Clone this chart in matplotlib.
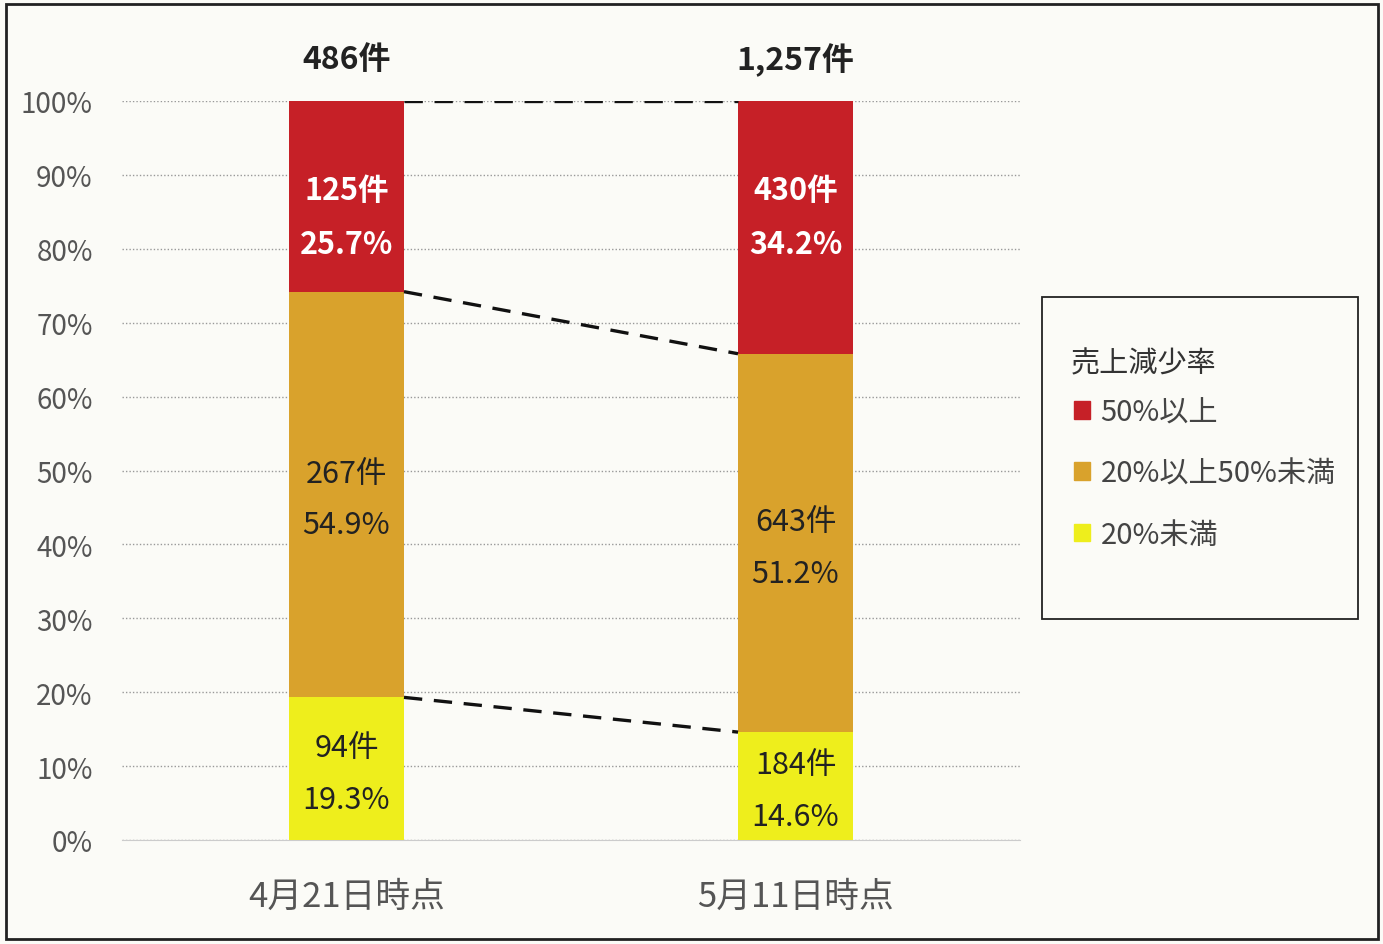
import matplotlib.pyplot as plt
import numpy as np
from matplotlib.patches import Rectangle, Patch

plt.rcParams['font.family'] = ['Noto Sans CJK JP', 'DejaVu Sans']

dates = ['4月21日時点', '5月11日時点']
totals = ['486件', '1,257件']
categories = ['20%未満', '20%以上50%未満', '50%以上']
counts = [[94, 184], [267, 643], [125, 430]]
pcts = [[19.3, 14.6], [54.9, 51.2], [25.7, 34.2]]
colors = ['#EEEE1C', '#D9A22C', '#C62027']
text_colors = ['#222222', '#222222', 'white']
text_bold = ['normal', 'normal', 'bold']

bg = '#FBFBF7'
fig = plt.figure(figsize=(13.83, 9.45), dpi=100, facecolor=bg)
ax = fig.add_axes([122 / 1383, 1 - 841 / 945, 898 / 1383, 739 / 945])
ax.set_facecolor(bg)

x = np.arange(len(dates))
w = 0.256
bottom = np.zeros(len(dates))
tops = []
for i, cat in enumerate(categories):
    vals = np.array(pcts[i])
    # last segment fills up to 100%
    if i == len(categories) - 1:
        vals = 100 - bottom
    ax.bar(x, vals, w, bottom=bottom, color=colors[i], zorder=3)
    for j in range(len(dates)):
        yc = bottom[j] + vals[j] / 2 - 0.6
        if i == len(categories) - 1:
            yc = 84.3  # top labels sit at the same height in the original
        ax.text(x[j], yc, f'{counts[i][j]}件\n{pcts[i][j]}%', ha='center', va='center',
                color=text_colors[i], fontsize=22, fontweight=text_bold[i],
                linespacing=1.87, zorder=4)
    bottom = bottom + vals
    tops.append(bottom.copy())

# dashed connectors between segment tops
for t in tops:
    ax.plot([x[0] + w / 2, x[1] - w / 2], [t[0], t[1]], color='#111111',
            lw=2.4, dashes=(5.5, 3.5), zorder=4)

for j in range(len(dates)):
    ax.text(x[j], 105.7, totals[j], ha='center', va='center', fontsize=23,
            fontweight='bold', color='#222222')

ax.set_xlim(-0.5, 1.5)
ax.set_ylim(0, 100)
ax.set_yticks(np.arange(0, 101, 10))
ax.set_yticklabels([f'{v}%' for v in range(0, 101, 10)], fontsize=20, color='#555555')
ax.set_xticks(x)
ax.set_xticklabels(dates, fontsize=25, color='#555555')
ax.tick_params(axis='y', length=0, pad=21)
ax.tick_params(axis='x', length=0, pad=28)
ax.grid(axis='y', color='#999999', linestyle=(0, (1, 1.5)), lw=1, zorder=0)
for s in ['top', 'right', 'left']:
    ax.spines[s].set_visible(False)
ax.spines['bottom'].set_color('#cccccc')

# legend box
fig.patches.append(Rectangle((1042 / 1383, 1 - 620 / 945), 316 / 1383, 322 / 945,
                             transform=fig.transFigure, fill=False, edgecolor='#222222', lw=1.3))
fig.text(1071 / 1383, 1 - 364 / 945, '売上減少率', ha='left', va='center',
         fontsize=21, color='#333333')
handles = [Patch(color=colors[i]) for i in [2, 1, 0]]
labels = [categories[i] for i in [2, 1, 0]]
leg = fig.legend(handles, labels, loc='upper left',
                 bbox_to_anchor=(1048 / 1383, 1 - 372 / 945), frameon=False,
                 fontsize=21, handlelength=0.55, handleheight=0.55,
                 handletextpad=0.35, labelspacing=1.07)
for t in leg.get_texts():
    t.set_color('#444444')

# outer frame
fig.patches.append(Rectangle((6 / 1383, 5 / 945), 1372 / 1383, 935 / 945,
                             transform=fig.transFigure, fill=False, edgecolor='#222222', lw=2))

fig.savefig('out.png', dpi=100, facecolor=bg)
